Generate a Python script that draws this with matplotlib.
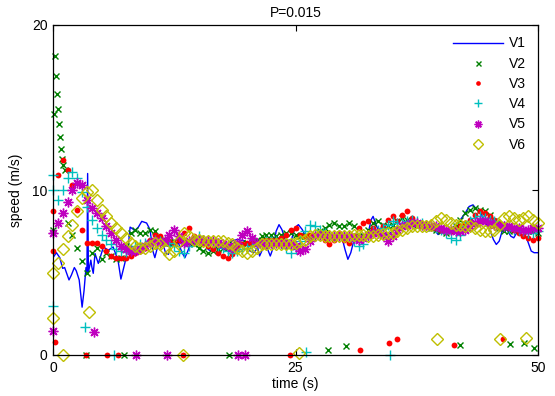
import numpy as np
import matplotlib
matplotlib.use("Agg")
import matplotlib.pyplot as plt

plt.rcParams['font.family'] = ['Liberation Sans', 'DejaVu Sans']

title = "P=0.015"
xlabel = "time (s)"
ylabel = "speed (m/s)"
labels = ["V1", "V2", "V3", "V4", "V5", "V6"]
xticks = [0, 25, 50]
yticks = [0, 10, 20]

# shared sample times for V2..V6 (0.5 s step)
t = np.arange(0, 50.001, 0.5)

# V1 (leader) : line, feature points (time, speed)
v1_t = [0, 0.35, 0.7, 1.0, 1.2, 1.65, 1.9, 2.2, 2.4, 2.7, 3.0, 3.2, 3.4, 3.5, 3.57, 3.65, 3.9, 4.0,
        4.15, 4.33, 4.67, 5.2, 5.7, 6.2, 6.7, 7.0, 7.4, 7.75, 7.95, 8.45, 8.8, 9.15, 9.65, 10.0,
        10.3, 10.5, 10.8, 11.2, 11.6, 11.9, 12.2, 12.8, 13.3, 13.6, 13.9, 14.3, 15.0, 15.6, 16.0,
        16.3, 16.7, 17.2, 17.7, 18.0, 18.4, 19.0, 19.8, 20.3, 20.7, 21.1, 21.3, 21.6, 22.0, 22.4,
        22.7, 23.0, 23.3, 23.6, 24.0, 24.6, 24.9, 25.3, 25.7, 26.2, 27.0, 27.8, 28.5, 29.2, 29.8,
        30.1, 30.4, 30.7, 31.0, 31.5, 32.0, 32.5, 32.8, 33.0, 33.3, 33.8, 34.5, 35.0, 35.5, 36.3,
        37.0, 37.8, 38.5, 39.2, 39.7, 40.1, 40.6, 41.0, 41.5, 42.0, 42.5, 42.9, 43.3, 43.7, 44.1,
        44.6, 45.1, 45.4, 45.7, 46.0, 46.3, 46.8, 47.2, 47.5, 47.8, 48.2, 48.6, 49.0, 49.3, 49.6, 50.0]
v1_v = [5.9, 6.2, 5.9, 5.25, 5.3, 4.55, 4.85, 5.3, 5.1, 4.55, 2.9, 3.9, 5.3, 5.0, 11.0, 5.0, 5.75, 5.35,
        4.95, 6.15, 5.55, 6.55, 6.35, 6.55, 5.75, 4.6, 5.55, 6.55, 7.75, 7.55, 7.75, 8.1, 8.0, 7.6,
        6.3, 5.9, 6.6, 7.0, 6.2, 6.1, 6.9, 7.0, 6.2, 5.9, 6.3, 7.0, 7.0, 6.9, 6.4,
        6.3, 6.6, 6.9, 6.4, 6.4, 6.9, 7.0, 6.9, 6.3, 6.2, 6.5, 6.0, 6.4, 6.6, 6.0,
        6.5, 7.5, 7.9, 7.6, 6.9, 7.0, 7.7, 7.9, 7.6, 7.0, 7.1, 7.2, 7.0, 7.3, 7.1,
        6.4, 5.8, 6.2, 6.9, 7.1, 7.0, 7.4, 8.2, 8.4, 7.9, 7.2, 7.3, 7.5, 7.7, 7.9,
        7.8, 7.8, 7.7, 7.7, 7.3, 7.5, 7.3, 7.6, 7.9, 8.2, 8.6, 9.0, 9.1, 8.8, 8.6,
        8.0, 7.5, 7.0, 6.7, 6.9, 7.5, 7.6, 7.2, 7.1, 7.4, 7.6, 7.4, 6.8, 6.3, 6.2, 6.2]

v2 = [7.6, 14.9, 11.5, 8.0, 7.3, 6.5, 5.7, 5.0, 6.2, 6.5, 5.8, 6.2, 6.0, 5.8, 5.9, 6.6, 7.4, 7.6, 7.4, 7.4,
      7.6, 7.5, 7.0, 6.8, 6.8, 6.9, 7.0, 6.9, 6.8, 6.7, 6.5, 6.3, 6.2, 6.3, 6.4, 6.5, 6.5, 6.7, 6.8, 6.8,
      6.8, 6.9, 7.0, 7.2, 7.3, 7.3, 7.2, 7.3, 7.4, 7.4, 7.3, 7.2, 7.2, 7.2, 7.3, 7.5, 7.7, 7.9, 8.0, 7.8,
      7.8, 8.0, 7.8, 7.2, 7.2, 7.6, 8.0, 8.1, 7.9, 7.8, 7.9, 8.1, 8.3, 8.2, 8.0, 7.9, 7.9, 7.8, 7.7, 7.6,
      7.5, 7.4, 7.5, 7.8, 8.2, 8.6, 8.8, 8.9, 8.8, 8.7, 8.5, 8.1, 7.7, 7.5, 7.5, 7.6, 7.7, 7.6, 7.5, 7.5,
      7.4]
v3 = [6.3, 10.9, 11.8, 11.2, 10.3, 8.8, 7.6, 6.8, 6.8, 6.8, 6.6, 6.3, 6.0, 5.9, 5.9, 5.9, 6.0, 6.2, 6.3, 6.5,
      7.0, 7.3, 7.2, 7.0, 6.9, 6.8, 7.0, 7.4, 7.7, 7.2, 6.9, 6.8, 6.6, 6.4, 6.2, 6.0, 5.9, 6.1, 6.5, 6.7,
      6.8, 6.8, 6.8, 6.9, 7.0, 7.0, 7.0, 7.1, 7.3, 7.6, 7.7, 7.3, 7.2, 7.3, 7.3, 7.3, 7.0, 6.7, 7.0, 7.4,
      7.0, 6.8, 7.2, 7.7, 8.0, 8.1, 7.7, 7.5, 7.8, 8.2, 8.4, 8.1, 8.5, 8.7, 8.3, 8.0, 7.9, 7.8, 7.7, 7.7,
      7.6, 7.5, 7.5, 7.6, 7.8, 8.0, 8.2, 8.5, 8.7, 8.6, 8.4, 8.2, 8.0, 7.9, 7.7, 7.6, 7.4, 7.2, 7.1, 7.0,
      7.1]
v4 = [10.0, 9.4, 10.0, 10.7, 11.1, 10.7, 9.9, 9.0, 8.2, 7.7, 7.3, 7.0, 6.7, 6.4, 6.3, 6.25, 6.4, 6.6, 6.7, 6.8,
      6.9, 7.0, 6.9, 6.9, 6.8, 6.6, 6.3, 6.2, 6.6, 7.0, 7.2, 7.0, 6.9, 6.8, 6.6, 6.5, 6.3, 6.2, 6.3, 6.4,
      6.5, 6.6, 6.7, 6.8, 6.9, 6.9, 6.9, 6.8, 6.5, 6.2, 6.4, 6.9, 7.5, 7.9, 7.8, 7.6, 7.4, 7.2, 7.2, 7.3,
      7.3, 7.2, 6.9, 6.6, 6.7, 7.2, 7.5, 7.6, 7.7, 7.9, 8.1, 8.0, 8.0, 8.1, 8.2, 8.1, 8.0, 7.9, 7.8, 7.7,
      7.6, 7.4, 7.1, 7.0, 7.3, 7.8, 8.1, 8.3, 8.4, 8.3, 8.2, 8.1, 7.9, 7.8, 7.7, 7.6, 7.6, 7.5, 7.4, 7.4,
      7.5]
v5 = [7.4, 8.0, 8.6, 9.3, 10.0, 10.4, 10.3, 9.4, 8.9, 8.6, 8.3, 7.8, 7.4, 7.0, 6.6, 6.4, 6.3, 6.3, 6.4, 6.6,
      6.8, 6.9, 6.8, 6.9, 7.3, 7.6, 7.2, 6.8, 6.9, 7.0, 7.0, 7.0, 6.9, 6.9, 6.8, 6.7, 6.6, 6.5, 6.8, 7.3,
      7.5, 7.1, 6.8, 6.7, 6.7, 6.8, 6.8, 6.8, 6.7, 6.7, 6.6, 6.3, 6.4, 6.9, 7.2, 7.3, 7.3, 7.2, 7.2, 7.2,
      7.2, 7.2, 7.1, 7.0, 7.1, 7.3, 7.4, 7.4, 7.3, 6.9, 7.2, 7.6, 7.8, 7.9, 8.0, 8.0, 7.9, 7.9, 7.8, 7.8,
      7.7, 7.6, 7.6, 7.5, 7.5, 7.6, 7.8, 8.0, 8.1, 8.1, 8.0, 7.9, 7.8, 7.8, 7.8, 7.7, 7.7, 7.6, 7.6, 7.7,
      7.7]
v6 = [5.0, 5.6, 6.4, 7.2, 7.9, 8.7, 9.5, 9.9, 10.0, 9.4, 8.8, 8.4, 8.0, 7.7, 7.4, 7.1, 6.8, 6.6, 6.5, 6.5,
      6.6, 6.8, 6.7, 6.4, 6.1, 6.3, 6.9, 7.4, 7.2, 7.0, 7.0, 6.9, 6.9, 6.9, 6.9, 6.9, 6.8, 6.7, 6.5, 6.3,
      6.2, 6.3, 6.5, 6.7, 6.7, 6.7, 6.7, 6.7, 6.7, 6.7, 6.8, 6.9, 7.0, 7.2, 7.3, 7.3, 7.2, 7.2, 7.2, 7.2,
      7.2, 7.2, 7.3, 7.3, 7.3, 7.2, 7.2, 7.3, 7.35, 7.4, 7.4, 7.5, 7.6, 7.7, 7.8, 7.8, 7.8, 7.8, 7.9, 8.1,
      8.3, 8.2, 8.0, 7.9, 7.9, 7.8, 7.8, 7.7, 7.6, 7.5, 7.5, 7.6, 7.9, 8.3, 8.4, 8.3, 8.2, 8.3, 8.4, 8.2,
      8.0]

# extra samples: start-up transients and drop-outs (time, speed)
v2_extra_t = [0.1, 0.2, 0.3, 0.4, 0.6, 0.7, 0.8, 0.9, 1.2, 3.4, 7.35, 18.1, 28.4, 30.2, 42.0, 47.1, 48.6, 49.6]
v2_extra_v = [14.6, 18.1, 16.9, 15.8, 14.0, 13.2, 12.5, 11.9, 11.2, 0, 0, 0, 0.3, 0.55, 0.6, 0.65, 0.7, 0.45]
v3_extra_t = [0.05, 0.2, 3.4, 5.6, 6.7, 13.4, 24.4, 31.6, 34.6, 35.5, 41.3, 46.4]
v3_extra_v = [8.7, 0.8, 0, 0, 0, 0, 0, 0.3, 0.7, 1.0, 0.6, 1.0]
v4_extra_t = [0.0, 0.05, 3.3, 6.3, 26.1, 34.7]
v4_extra_v = [3.0, 10.9, 1.7, 0, 0.2, 0]
v5_extra_t = [0.0, 4.2, 8.56, 11.8, 19.1, 19.8]
v5_extra_v = [1.45, 1.4, 0, 0, 0, 0]
v6_extra_t = [0.0, 1.06, 3.7, 13.4, 25.4, 39.6, 46.1, 48.8]
v6_extra_v = [2.25, 0, 2.6, 0, 0.1, 1.0, 1.0, 1.05]

colors = ['#0000ff', '#008000', '#ff0000', '#00bfbf', '#bf00bf', '#bfbf00']
asterisk = (8, 2, 0)

fig = plt.figure(figsize=(5.55, 3.96), dpi=100)
ax = fig.add_axes([53 / 555, 41 / 396, 485 / 555, 330 / 396])

ax.plot(v1_t, v1_v, '-', color=colors[0], lw=1.0, label=labels[0])

styles = [
    dict(marker='x', ms=4.5, mew=1.0, color=colors[1]),
    dict(marker='o', ms=4.2, mew=0, color=colors[2]),
    dict(marker='+', ms=7, mew=1.0, color=colors[3]),
    dict(marker=asterisk, ms=7, mew=1.0, color=colors[4]),
    dict(marker='D', ms=6.3, mew=1.0, color=colors[5], mfc='none'),
]
series = [v2, v3, v4, v5, v6]
extras = [(v2_extra_t, v2_extra_v), (v3_extra_t, v3_extra_v), (v4_extra_t, v4_extra_v),
          (v5_extra_t, v5_extra_v), (v6_extra_t, v6_extra_v)]
for i, (vals, st, ex) in enumerate(zip(series, styles, extras)):
    ax.plot(t, vals, ls='none', label=labels[i + 1], clip_on=False, **st)
    ax.plot(ex[0], ex[1], ls='none', clip_on=False, **st)

ax.set_xlim(0, 50)
ax.set_ylim(0, 20)
ax.set_xticks(xticks)
ax.set_yticks(yticks)
ax.tick_params(direction='in', length=4, width=0.8, top=True, right=True, labelsize=10, pad=4)
for s in ax.spines.values():
    s.set_linewidth(0.9)
ax.set_title(title, fontsize=10, pad=6)
ax.set_xlabel(xlabel, fontsize=10, labelpad=2)
ax.set_ylabel(ylabel, fontsize=10, labelpad=6)

leg = ax.legend(loc='upper right', frameon=False, fontsize=10, handlelength=3.6,
                labelspacing=0.45, borderaxespad=0.3, handletextpad=0.4,
                bbox_to_anchor=(0.995, 0.995), markerscale=0.8)

fig.savefig("out.png", dpi=100)
